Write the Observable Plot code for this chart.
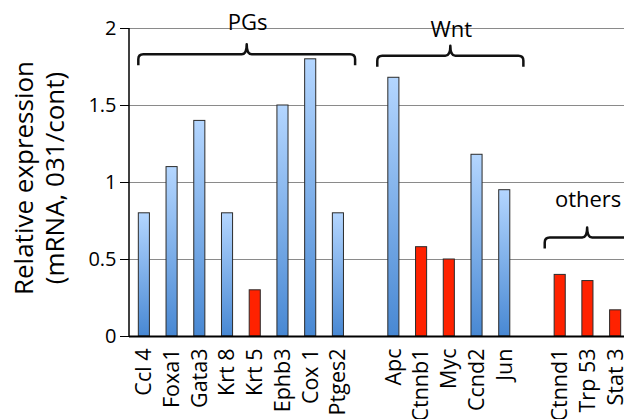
<!DOCTYPE html>
<html>
<head>
<meta charset="utf-8">
<script src="https://cdn.jsdelivr.net/npm/d3@7"></script>
<script src="https://cdn.jsdelivr.net/npm/@observablehq/plot@0.6"></script>
<style>
  html, body { margin: 0; padding: 0; background: #fff; overflow: hidden; }
  #chart { width: 624px; height: 419px; overflow: hidden; }
</style>
</head>
<body>
<div id="chart"></div>
<script>
// ---- data ----
const genes  = ["Ccl 4", "Foxa1", "Gata3", "Krt 8", "Krt 5", "Ephb3", "Cox 1", "Ptges2",
                "Apc", "Ctnnb1", "Myc", "Ccnd2", "Jun",
                "Ctnnd1", "Trp 53", "Stat 3"];
const values = [0.80, 1.10, 1.40, 0.80, 0.30, 1.50, 1.80, 0.80,
                1.68, 0.58, 0.50, 1.18, 0.95,
                0.40, 0.36, 0.17];
const change = ["up", "up", "up", "up", "down", "up", "up", "up",
                "up", "down", "down", "up", "up",
                "down", "down", "down"];
const groupNames   = ["PGs", "Wnt", "others"];
const groupMembers = [
  ["Ccl 4", "Foxa1", "Gata3", "Krt 8", "Krt 5", "Ephb3", "Cox 1", "Ptges2"],
  ["Apc", "Ctnnb1", "Myc", "Ccnd2", "Jun"],
  ["Ctnnd1", "Trp 53", "Stat 3"]
];
const yTicks = [0, 0.5, 1, 1.5, 2];
const yTitleLines = ["Relative expression", "(mRNA, 031/cont)"];

// annotation placement (data units / band steps)
const braceLevel = [1.83, 1.82, 0.64];
const labelLevel = [2.04, 1.99, 0.89];
const braceSpan  = [[-0.2, 0.62], [-0.58, 0.69], [-0.54, 0.52]];

// ---- build ----
const data = genes.map((g, i) => ({gene: g, value: values[i], change: change[i]}));
const domain = [];
groupMembers.forEach((m, i) => { if (i > 0) domain.push("gap" + i); domain.push(...m); });

const FONT = "'Open Sans', Lato, sans-serif";
const mLeft = 129;

const plot = Plot.plot({
  width: 640,
  height: 419,
  marginLeft: mLeft,
  marginTop: 28,
  marginBottom: 83,
  marginRight: 11,
  style: {fontFamily: FONT, background: "white", maxWidth: "none", overflow: "visible", color: "#000"},
  x: {domain, range: [130, 629], paddingInner: 0.6, paddingOuter: 0.3, round: false, axis: null},
  y: {domain: [0, 2], axis: null},
  marks: [
    Plot.gridY(yTicks, {stroke: "#8a8a8a", strokeOpacity: 1, strokeWidth: 1.2}),
    Plot.barY(data.filter(d => d.change === "up"), {x: "gene", y: "value", fill: "url(#blueGrad)", stroke: "#2b2b2b", strokeWidth: 1}),
    Plot.barY(data.filter(d => d.change === "down"), {x: "gene", y: "value", fill: "#ff2200", stroke: "#2b2b2b", strokeWidth: 1}),
    Plot.ruleY([0], {stroke: "#000", strokeWidth: 2}),
    Plot.axisY({ticks: yTicks, tickSize: 9, tickPadding: 4, fontSize: 20, tickFormat: d => String(d), label: null}),
    Plot.axisX({ticks: genes, tickSize: 0, tickRotate: -90, tickPadding: 12, fontSize: 21.5, label: null})
  ]
});

document.getElementById("chart").appendChild(plot);

// ---- gradient, axis line, title, braces via the plot's scales ----
const sx = plot.scale("x"), sy = plot.scale("y");
const bw = sx.bandwidth, step = sx.step;
const cx = g => sx.apply(g) + bw / 2;
const svg = d3.select(plot);

const grad = svg.insert("defs", ":first-child").append("linearGradient")
  .attr("id", "blueGrad").attr("x1", 0).attr("y1", 0).attr("x2", 0).attr("y2", 1);
grad.append("stop").attr("offset", "0%").attr("stop-color", "#b4d6ff");
grad.append("stop").attr("offset", "100%").attr("stop-color", "#4888d3");

svg.append("line")
  .attr("x1", mLeft).attr("x2", mLeft)
  .attr("y1", sy.apply(0) + 1).attr("y2", sy.apply(2))
  .attr("stroke", "#000").attr("stroke-width", 1.5);

// y-axis title (two lines, rotated)
const yMid = (sy.apply(0) + sy.apply(2)) / 2 - 4;
const title = svg.append("text")
  .attr("transform", `translate(0,${yMid}) rotate(-90)`)
  .attr("text-anchor", "middle")
  .attr("font-family", FONT).attr("font-size", 26).attr("fill", "#000");
title.append("tspan").attr("x", 0).attr("y", 33).text(yTitleLines[0]);
title.append("tspan").attr("x", 0).attr("y", 64).text(yTitleLines[1]);

const ann = svg.append("g").attr("font-family", FONT);
groupNames.forEach((name, i) => {
  const m = groupMembers[i];
  const x0 = cx(m[0]) + braceSpan[i][0] * step;
  const x1 = cx(m[m.length - 1]) + braceSpan[i][1] * step;
  const xm = (x0 + x1) / 2;
  const yb = sy.apply(braceLevel[i]);
  const h = 11, r = 5, t = 10;
  ann.append("path")
    .attr("d", `M${x0},${yb + h} L${x0},${yb + r} Q${x0},${yb} ${x0 + r},${yb} L${xm - r},${yb} Q${xm},${yb} ${xm},${yb - t} Q${xm},${yb} ${xm + r},${yb} L${x1 - r},${yb} Q${x1},${yb} ${x1},${yb + r} L${x1},${yb + h}`)
    .attr("fill", "none").attr("stroke", "#111").attr("stroke-width", 2.5)
    .attr("stroke-linejoin", "round");
  ann.append("text")
    .attr("x", xm + 1).attr("y", sy.apply(labelLevel[i]))
    .attr("dy", "0.35em").attr("text-anchor", "middle")
    .attr("font-size", 22).attr("fill", "#000")
    .text(name);
});
</script>
</body>
</html>
